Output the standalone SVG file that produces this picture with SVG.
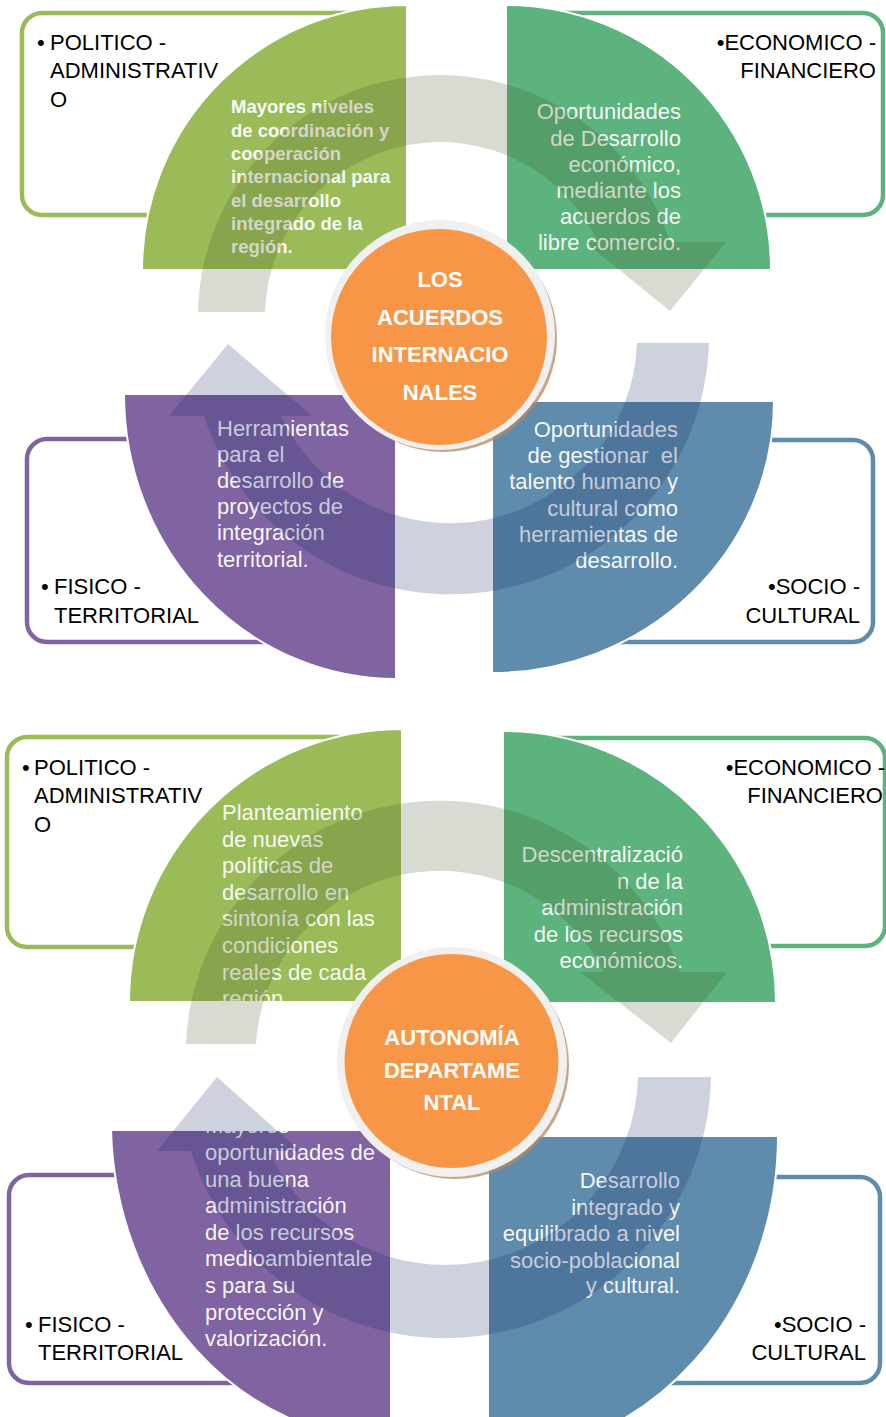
<svg xmlns="http://www.w3.org/2000/svg" width="886" height="1417" viewBox="0 0 886 1417">
<style>
.box{fill:#fff;stroke-width:4.5}
.lbl{font-family:"Liberation Sans",Arial,sans-serif;font-size:22px;fill:#000}
.end{text-anchor:end}
.st{font-family:"Liberation Sans",Arial,sans-serif;font-size:22px;fill:#fff;fill-opacity:.95;white-space:pre}
.stb{font-family:"Liberation Sans",Arial,sans-serif;font-size:18.5px;font-weight:bold;fill:#fff;fill-opacity:.95}
.sec{stroke:#fff;stroke-width:2}
.ctr{font-family:"Liberation Sans",Arial,sans-serif;font-size:22px;font-weight:bold;fill:#fff;text-anchor:middle}
.arA{fill:#3D4D1B;fill-opacity:.2}
.arB{fill:#0A1E5F;fill-opacity:.2}
.ring{fill:#F0F0F0}
.shadow{fill:#B58860;fill-opacity:.75}
.orange{fill:#F79646}
</style>
<defs>
<clipPath id="c2tl"><path d="M402,1002 L129,1002 A273,273 0 0 1 402,729 Z"/></clipPath>
<clipPath id="c2bl"><rect x="100" y="1131" width="300" height="290"/></clipPath>
</defs>

<!-- ===== Diagram 1 ===== -->
<g id="d1-politico">
<rect class="box" x="22" y="13" width="383" height="202" rx="20" stroke="#9BBB59"/>
<text class="lbl"><tspan x="37" y="50">•</tspan><tspan x="50" y="50">POLITICO -</tspan><tspan x="50" y="78">ADMINISTRATIV</tspan><tspan x="50" y="107">O</tspan></text>
</g>
<g id="d1-economico">
<rect class="box" x="508" y="13" width="375" height="202" rx="20" stroke="#5CB37E"/>
<text class="lbl end"><tspan x="876" y="50">•ECONOMICO -</tspan><tspan x="876" y="78">FINANCIERO</tspan></text>
</g>
<g id="d1-fisico">
<rect class="box" x="27" y="439" width="367" height="203" rx="20" stroke="#8064A2"/>
<text class="lbl"><tspan x="41" y="594">•</tspan><tspan x="54" y="594">FISICO -</tspan><tspan x="54" y="623">TERRITORIAL</tspan></text>
</g>
<g id="d1-socio">
<rect class="box" x="494" y="440" width="379" height="202" rx="20" stroke="#5F8CAD"/>
<text class="lbl end"><tspan x="860" y="594">•SOCIO -</tspan><tspan x="860" y="623">CULTURAL</tspan></text>
</g>

<g id="d1-sector-tl">
<path class="sec" d="M407,270 L142,270 A265,265 0 0 1 407,5 Z" fill="#9BBB59"/>
<text class="stb"><tspan x="231" y="113">Mayores niveles</tspan><tspan x="231" y="137">de coordinación y</tspan><tspan x="231" y="160">cooperación</tspan><tspan x="231" y="183">internacional para</tspan><tspan x="231" y="207">el desarrollo</tspan><tspan x="231" y="230">integrado de la</tspan><tspan x="231" y="253">región.</tspan></text>
</g>
<g id="d1-sector-tr">
<path class="sec" d="M506,270 L506,5 A265,265 0 0 1 771,270 Z" fill="#5CB37E"/>
<text class="st end"><tspan x="681" y="119">Oportunidades</tspan><tspan x="681" y="146">de Desarrollo</tspan><tspan x="681" y="172">económico,</tspan><tspan x="681" y="198">mediante los</tspan><tspan x="681" y="224">acuerdos de</tspan><tspan x="681" y="250">libre comercio.</tspan></text>
</g>
<g id="d1-sector-bl">
<path class="sec" d="M396,394 L396,679 A272,285 0 0 1 124,394 Z" fill="#8064A2"/>
<text class="st"><tspan x="217" y="436">Herramientas</tspan><tspan x="217" y="462">para el</tspan><tspan x="217" y="488">desarrollo de</tspan><tspan x="217" y="514">proyectos de</tspan><tspan x="217" y="540">integración</tspan><tspan x="217" y="567">territorial.</tspan></text>
</g>
<g id="d1-sector-br">
<path class="sec" d="M492,401 L774,401 A282,272 0 0 1 492,673 Z" fill="#5F8CAD"/>
<text class="st end"><tspan x="678" y="437">Oportunidades</tspan><tspan x="678" y="463">de gestionar  el</tspan><tspan x="678" y="489">talento humano y</tspan><tspan x="678" y="516">cultural como</tspan><tspan x="678" y="542">herramientas de</tspan><tspan x="678" y="568">desarrollo.</tspan></text>
</g>

<!-- ===== Diagram 2 ===== -->
<g id="d2-politico">
<rect class="box" x="7" y="737" width="393" height="210" rx="20" stroke="#9BBB59"/>
<text class="lbl"><tspan x="22" y="775">•</tspan><tspan x="34" y="775">POLITICO -</tspan><tspan x="34" y="803">ADMINISTRATIV</tspan><tspan x="34" y="832">O</tspan></text>
</g>
<g id="d2-economico">
<rect class="box" x="505" y="738" width="380" height="208" rx="20" stroke="#5CB37E"/>
<text class="lbl end"><tspan x="885" y="775">•ECONOMICO -</tspan><tspan x="883" y="803">FINANCIERO</tspan></text>
</g>
<g id="d2-fisico">
<rect class="box" x="9" y="1175" width="380" height="208" rx="20" stroke="#8064A2"/>
<text class="lbl"><tspan x="25" y="1332">•</tspan><tspan x="38" y="1332">FISICO -</tspan><tspan x="38" y="1360">TERRITORIAL</tspan></text>
</g>
<g id="d2-socio">
<rect class="box" x="490" y="1177" width="390" height="206" rx="20" stroke="#5F8CAD"/>
<text class="lbl end"><tspan x="866" y="1332">•SOCIO -</tspan><tspan x="866" y="1360">CULTURAL</tspan></text>
</g>

<g id="d2-sector-tl">
<path class="sec" d="M402,1002 L129,1002 A273,273 0 0 1 402,729 Z" fill="#9BBB59"/>
<text class="st" clip-path="url(#c2tl)"><tspan x="222" y="820">Planteamiento</tspan><tspan x="222" y="846.6">de nuevas</tspan><tspan x="222" y="873.2">políticas de</tspan><tspan x="222" y="899.8">desarrollo en</tspan><tspan x="222" y="926.4">sintonía con las</tspan><tspan x="222" y="953">condiciones</tspan><tspan x="222" y="979.6">reales de cada</tspan><tspan x="222" y="1006.2">región.</tspan></text>
</g>
<g id="d2-sector-tr">
<path class="sec" d="M503,1003 L503,731 A273,272 0 0 1 776,1003 Z" fill="#5CB37E"/>
<text class="st end"><tspan x="683" y="862">Descentralizació</tspan><tspan x="683" y="888.5">n de la</tspan><tspan x="683" y="915">administración</tspan><tspan x="683" y="941.5">de los recursos</tspan><tspan x="683" y="968">económicos.</tspan></text>
</g>
<g id="d2-sector-bl">
<path class="sec" d="M391,1130 L391,1440 A280,320 0 0 1 111,1130 Z" fill="#8064A2"/>
<text class="st" clip-path="url(#c2bl)"><tspan x="205" y="1133.4">Mayores</tspan><tspan x="205" y="1160">oportunidades de</tspan><tspan x="205" y="1186.6">una buena</tspan><tspan x="205" y="1213.2">administración</tspan><tspan x="205" y="1239.8">de los recursos</tspan><tspan x="205" y="1266.4">medioambientale</tspan><tspan x="205" y="1293">s para su</tspan><tspan x="205" y="1319.6">protección y</tspan><tspan x="205" y="1346.2">valorización.</tspan></text>
</g>
<g id="d2-sector-br">
<path class="sec" d="M488,1136 L778,1136 A290,320 0 0 1 488,1456 Z" fill="#5F8CAD"/>
<text class="st end"><tspan x="680" y="1188">Desarrollo</tspan><tspan x="680" y="1214.5">integrado y</tspan><tspan x="680" y="1241">equilibrado a nivel</tspan><tspan x="680" y="1267.5">socio-poblacional</tspan><tspan x="680" y="1293">y cultural.</tspan></text>
</g>

<!-- connectors: circular arrows -->
<g id="connectors">
<path class="arA" d="M198,312 A242,242 0 0 1 670,242 L726,242 L670,311 L585,242 L598,242 A175,175 0 0 0 265,312 Z"/>
<path class="arB" d="M709,343 A259,259 0 0 1 204,416 L169,416 L228,344 L312,416 L281,416 A187,187 0 0 0 637,343 Z"/>
<path class="arA" d="M186,1044 A254,254 0 0 1 680,972 L727,972 L671,1043 L580,972 L604,972 A184,184 0 0 0 256,1044 Z"/>
<path class="arB" d="M711,1077 A266,266 0 0 1 191,1151 L157,1151 L217,1077 L300,1151 L269,1151 A193,193 0 0 0 638,1077 Z"/>
</g>

<g id="d1-center">
<circle class="shadow" cx="443" cy="338" r="114"/>
<circle class="ring" cx="440" cy="335" r="115"/>
<circle class="orange" cx="439" cy="337" r="108"/>
<text class="ctr"><tspan x="440" y="287">LOS</tspan><tspan x="440" y="325">ACUERDOS</tspan><tspan x="440" y="362">INTERNACIO</tspan><tspan x="440" y="400">NALES</tspan></text>
</g>
<g id="d2-center">
<circle class="shadow" cx="455" cy="1065" r="114"/>
<circle class="ring" cx="452" cy="1062" r="115"/>
<circle class="orange" cx="451.5" cy="1061" r="107"/>
<text class="ctr"><tspan x="452" y="1045">AUTONOMÍA</tspan><tspan x="452" y="1078">DEPARTAME</tspan><tspan x="452" y="1110">NTAL</tspan></text>
</g>
</svg>
